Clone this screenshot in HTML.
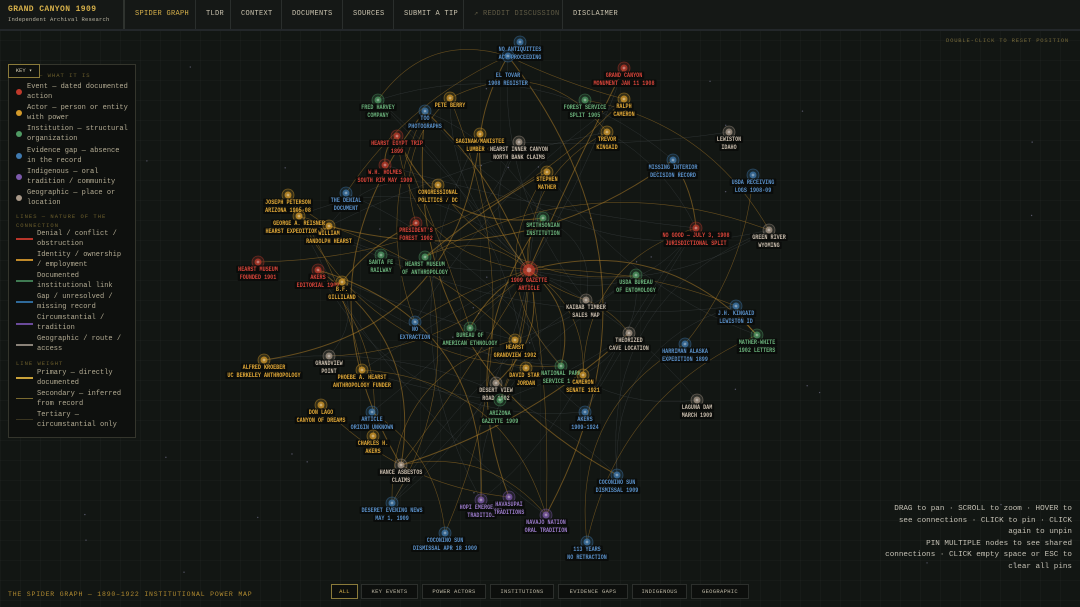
<!DOCTYPE html>
<html><head><meta charset="utf-8"><style>
html,body{margin:0;padding:0;width:1080px;height:607px;overflow:hidden;background:#121613;font-family:"Liberation Mono",monospace;}
#bg{position:absolute;left:0;top:0;width:1080px;height:607px;background-color:#121613;background-image:linear-gradient(rgba(255,255,255,0.018) 1px,transparent 1px),linear-gradient(90deg,rgba(255,255,255,0.018) 1px,transparent 1px);background-size:20px 20px;}
#nav{position:absolute;left:0;top:0;width:1080px;height:29px;background:#151816;border-bottom:2px solid #23272a;}
.ni{position:absolute;top:0;height:29px;line-height:29px;font-size:7px;color:#c9c2ae;letter-spacing:0.3px;border-left:1px solid #2a2e2c;padding-left:10px;box-sizing:border-box;}
#title{position:absolute;left:8px;top:5px;color:#d6b04a;font-size:8px;font-weight:bold;letter-spacing:0.4px;}
#sub{position:absolute;left:8px;top:16px;color:#b8b2a0;font-size:5.5px;letter-spacing:0.2px;}
#legend{position:absolute;left:8px;top:64px;width:128px;height:374px;background:#0e100e;border:1px solid #34352c;box-sizing:border-box;}
.lt{position:absolute;font-size:7px;color:#b3ab93;line-height:10px;}
.lh{position:absolute;font-size:5.5px;color:#6d5f2c;letter-spacing:1px;line-height:9px;}
.dot{position:absolute;width:6px;height:6px;border-radius:50%;}
.ln{position:absolute;width:17px;height:2px;}
#keyb{position:absolute;left:8px;top:64px;width:32px;height:14px;border:1px solid #8a7a3a;box-sizing:border-box;font-size:5.5px;color:#d0c8b0;line-height:12px;text-align:center;background:#0e100e;}
#foot{position:absolute;left:8px;top:591px;font-size:6.5px;color:#b08a30;letter-spacing:0.8px;}
.fb{position:absolute;top:584px;height:15px;border:1px solid #2c2f2c;background:#0d0f0d;font-size:5.5px;color:#bdb7a4;line-height:13px;text-align:center;box-sizing:border-box;letter-spacing:0.3px;}
#help{position:absolute;right:8px;top:504px;width:260px;text-align:right;font-size:7.6px;line-height:11.5px;color:#c4c0b4;}
#reset{position:absolute;left:946px;top:37px;font-size:5.5px;color:#74683a;letter-spacing:0.8px;}
svg{position:absolute;left:0;top:0;}
</style></head><body>
<div id="bg"></div>
<svg id="g" width="1080" height="607" viewBox="0 0 1080 607"></svg>
<div id="nav">
<div id="title">GRAND CANYON 1909</div>
<div id="sub">Independent Archival Research</div>
<div class="ni" style="left:123px;width:72px;color:#d6b04a;border-left:2px solid #2f332f">SPIDER GRAPH</div>
<div class="ni" style="left:195px;width:35px">TLDR</div>
<div class="ni" style="left:230px;width:51px">CONTEXT</div>
<div class="ni" style="left:281px;width:61px">DOCUMENTS</div>
<div class="ni" style="left:342px;width:51px">SOURCES</div>
<div class="ni" style="left:393px;width:70px">SUBMIT A TIP</div>
<div class="ni" style="left:463px;width:99px;color:#5f5a44">↗ REDDIT DISCUSSION</div>
<div class="ni" style="left:562px;width:70px">DISCLAIMER</div>
</div>
<div id="reset">DOUBLE-CLICK TO RESET POSITION</div>
<div id="legend">
<div class="lh" style="left:30px;top:6px">— WHAT IT IS</div>
<div class="dot" style="left:7px;top:24px;background:#c0392b"></div>
<div class="lt" style="left:18px;top:17px">Event — dated documented<br>action</div>
<div class="dot" style="left:7px;top:45px;background:#d49a2a"></div>
<div class="lt" style="left:18px;top:38px">Actor — person or entity<br>with power</div>
<div class="dot" style="left:7px;top:66px;background:#4f9a63"></div>
<div class="lt" style="left:18px;top:59px">Institution — structural<br>organization</div>
<div class="dot" style="left:7px;top:88px;background:#3f7ab0"></div>
<div class="lt" style="left:18px;top:81px">Evidence gap — absence<br>in the record</div>
<div class="dot" style="left:7px;top:109px;background:#7d5aac"></div>
<div class="lt" style="left:18px;top:102px">Indigenous — oral<br>tradition / community</div>
<div class="dot" style="left:7px;top:130px;background:#a89888"></div>
<div class="lt" style="left:18px;top:123px">Geographic — place or<br>location</div>
<div class="lh" style="left:7px;top:147px">LINES — NATURE OF THE<br>CONNECTION</div>
<div class="ln" style="left:7px;top:173px;background:#b8352a"></div>
<div class="lt" style="left:28px;top:164px">Denial / conflict /<br>obstruction</div>
<div class="ln" style="left:7px;top:194px;background:#c08a2a"></div>
<div class="lt" style="left:28px;top:185px">Identity / ownership<br>/ employment</div>
<div class="ln" style="left:7px;top:215px;background:#3f7a52"></div>
<div class="lt" style="left:28px;top:206px">Documented<br>institutional link</div>
<div class="ln" style="left:7px;top:236px;background:#2f6a9a"></div>
<div class="lt" style="left:28px;top:227px">Gap / unresolved /<br>missing record</div>
<div class="ln" style="left:7px;top:258px;background:#6a4a9a"></div>
<div class="lt" style="left:28px;top:248px">Circumstantial /<br>tradition</div>
<div class="ln" style="left:7px;top:279px;background:#8a8278"></div>
<div class="lt" style="left:28px;top:269px">Geographic / route /<br>access</div>
<div class="lh" style="left:7px;top:294px">LINE WEIGHT</div>
<div class="ln" style="left:7px;top:312px;background:#c9a23a;height:2px"></div>
<div class="lt" style="left:28px;top:303px">Primary — directly<br>documented</div>
<div class="ln" style="left:7px;top:333px;background:#7a6a30;height:1px"></div>
<div class="lt" style="left:28px;top:324px">Secondary — inferred<br>from record</div>
<div class="ln" style="left:7px;top:354px;background:#3a3520;height:1px"></div>
<div class="lt" style="left:28px;top:345px">Tertiary —<br>circumstantial only</div>
</div>
<div id="keyb">KEY ▾</div>
<div id="help">DRAG to pan · SCROLL to zoom · HOVER to<br>see connections · CLICK to pin · CLICK<br>again to unpin<br>PIN MULTIPLE nodes to see shared<br>connections · CLICK empty space or ESC to<br>clear all pins</div>
<div id="foot">THE SPIDER GRAPH — 1890–1922 INSTITUTIONAL POWER MAP</div>
<div class="fb" style="left:331px;width:27px;border-color:#8a7a3a;color:#d6b04a">ALL</div>
<div class="fb" style="left:361px;width:57px">KEY EVENTS</div>
<div class="fb" style="left:422px;width:64px">POWER ACTORS</div>
<div class="fb" style="left:490px;width:64px">INSTITUTIONS</div>
<div class="fb" style="left:558px;width:70px">EVIDENCE GAPS</div>
<div class="fb" style="left:632px;width:55px">INDIGENOUS</div>
<div class="fb" style="left:691px;width:58px">GEOGRAPHIC</div>
<script>
var C={r:'#c0392b',o:'#d49a2a',g:'#4f9a63',b:'#3f7ab0',p:'#7d5aac',t:'#a89888'};
var T={r:'#d8453a',o:'#e0a838',g:'#6ab07a',b:'#5a90c8',p:'#9a7ac8',t:'#c8bcac'};
var N=[
[520,42,'b',['NO ANTIQUITIES','ACT PROCEEDING']],
[508,56,'b',['EL TOVAR','1908 REGISTER'],12],
[624,68,'r',['GRAND CANYON','MONUMENT JAN 11 1908']],
[378,100,'g',['FRED HARVEY','COMPANY']],
[450,98,'o',['PETE BERRY']],
[425,111,'b',['TOO','PHOTOGRAPHS']],
[585,100,'g',['FOREST SERVICE','SPLIT 1905']],
[624,99,'o',['RALPH','CAMERON']],
[397,136,'r',['HEARST EGYPT TRIP','1899']],
[480,134,'o',['SAGINAW/MANISTEE','LUMBER CO']],
[519,142,'t',['HEARST INNER CANYON','NORTH BANK CLAIMS']],
[607,132,'o',['TREVOR','KINGAID']],
[729,132,'t',['LEWISTON','IDAHO']],
[385,165,'r',['W.H. HOLMES','SOUTH RIM MAY 1909']],
[547,172,'o',['STEPHEN','MATHER']],
[673,160,'b',['MISSING INTERIOR','DECISION RECORD']],
[753,175,'b',['USDA RECEIVING','LOGS 1908-09']],
[288,195,'o',['JOSEPH PETERSON','ARIZONA 1905-08']],
[346,193,'b',['THE DENIAL','DOCUMENT']],
[438,185,'o',['CONGRESSIONAL','POLITICS / DC']],
[299,216,'o',['GEORGE A. REISNER','HEARST EXPEDITION DIR.']],
[329,226,'o',['WILLIAM','RANDOLPH HEARST']],
[416,223,'r',['PRESIDENT\'S','FOREST 1902']],
[543,218,'g',['SMITHSONIAN','INSTITUTION']],
[696,228,'r',['NO GOOD — JULY 3, 1908','JURISDICTIONAL SPLIT']],
[769,230,'t',['GREEN RIVER','WYOMING']],
[258,262,'r',['HEARST MUSEUM','FOUNDED 1901']],
[318,270,'r',['AKERS','EDITORIAL 1909']],
[342,282,'o',['B.F.','GILLILAND']],
[381,255,'g',['SANTA FE','RAILWAY']],
[425,257,'g',['HEARST MUSEUM','OF ANTHROPOLOGY']],
[529,270,'r',['1909 GAZETTE','ARTICLE'],0,1],
[636,275,'g',['USDA BUREAU','OF ENTOMOLOGY']],
[586,300,'t',['KAIBAB TIMBER','SALES MAP']],
[736,306,'b',['J.H. KINGAID','LEWISTON ID']],
[415,322,'b',['NO','EXTRACTION']],
[470,328,'g',['BUREAU OF','AMERICAN ETHNOLOGY']],
[515,340,'o',['HEARST','GRANDVIEW 1902']],
[629,333,'t',['THEORIZED','CAVE LOCATION']],
[685,344,'b',['HARRIMAN ALASKA','EXPEDITION 1899']],
[757,335,'g',['MATHER-WHITE','1902 LETTERS']],
[264,360,'o',['ALFRED KROEBER','UC BERKELEY ANTHROPOLOGY']],
[329,356,'t',['GRANDVIEW','POINT']],
[362,370,'o',['PHOEBE A. HEARST','ANTHROPOLOGY FUNDER']],
[526,368,'o',['DAVID STARR','JORDAN']],
[561,366,'g',['NATIONAL PARK','SERVICE 1916']],
[583,375,'o',['CAMERON','SENATE 1921']],
[496,383,'t',['DESERT VIEW','ROAD 1902']],
[500,400,'g',['ARIZONA','GAZETTE 1909'],6],
[321,405,'o',['DON LAGO','CANYON OF DREAMS']],
[372,412,'b',['ARTICLE','ORIGIN UNKNOWN']],
[585,412,'b',['AKERS','1909-1924']],
[697,400,'t',['LAGUNA DAM','MARCH 1909']],
[373,436,'o',['CHARLES H.','AKERS']],
[401,465,'t',['HANCE ASBESTOS','CLAIMS']],
[617,475,'b',['COCONINO SUN','DISMISSAL 1909']],
[392,503,'b',['DESERET EVENING NEWS','MAY 1, 1909']],
[481,500,'p',['HOPI EMERGENCE','TRADITION']],
[509,497,'p',['HAVASUPAI','TRADITIONS']],
[546,515,'p',['NAVAJO NATION','ORAL TRADITION']],
[445,533,'b',['COCONINO SUN','DISMISSAL APR 18 1909']],
[587,542,'b',['113 YEARS','NO RETRACTION']]
];
var ns='http://www.w3.org/2000/svg',g=document.getElementById('g');
function el(t,a,p){var e=document.createElementNS(ns,t);for(var k in a)e.setAttribute(k,a[k]);(p||g).appendChild(e);return e;}
var s=7;function rnd(){s=(s*9301+49297)%233280;return s/233280;}
for(var i=0;i<40;i++)el('circle',{cx:rnd()*1080,cy:40+rnd()*540,r:0.7,fill:'#556'});
var E=[];var hub=31;
for(var i=0;i<N.length;i++){if(i!=hub&&rnd()<0.4)E.push([hub,i]);}
for(var i=0;i<85;i++){var a=Math.floor(rnd()*N.length),b=Math.floor(rnd()*N.length);if(a!=b)E.push([a,b]);}
var eg=el('g',{fill:'none'});
E.forEach(function(e,k){var A=N[e[0]],B=N[e[1]];var mx=(A[0]+B[0])/2,my=(A[1]+B[1])/2;var dx=B[0]-A[0],dy=B[1]-A[1];var f=(rnd()-0.5)*0.8;
var cx=mx-dy*f,cy=my+dx*f;var orange=rnd()<0.5;
el('path',{d:'M'+A[0]+' '+A[1]+' Q'+cx+' '+cy+' '+B[0]+' '+B[1],stroke:orange?'#b8842a':'#6a7078','stroke-width':orange?(rnd()<0.3?1:0.6):0.5,'stroke-opacity':orange?0.5:0.3},eg);});
N.forEach(function(n){var x=n[0],y=n[1],c=C[n[2]],big=n[5];var r=big?6:3.5;
el('circle',{cx:x,cy:y,r:r+2.5,fill:c,'fill-opacity':0.18,stroke:c,'stroke-opacity':0.5,'stroke-width':0.8});
el('circle',{cx:x,cy:y,r:r,fill:c,'fill-opacity':0.75});
el('circle',{cx:x,cy:y,r:r*0.4,fill:'#fff','fill-opacity':0.35});
var off=n[4]||0;
n[3].forEach(function(t,i){var w=t.length*3.05;var ty=y+(big?12:9)+off+i*8;
el('rect',{x:x-w/2-2,y:ty-5.5,width:w+4,height:7.5,fill:'#0a0b0a','fill-opacity':0.9,rx:1});
var tx=el('text',{x:x,y:ty,'text-anchor':'middle','font-family':'Liberation Mono, monospace','font-size':6,'font-weight':'bold',fill:T[n[2]],textLength:w,lengthAdjust:'spacingAndGlyphs'});tx.textContent=t;});
});
</script>
</body></html>
